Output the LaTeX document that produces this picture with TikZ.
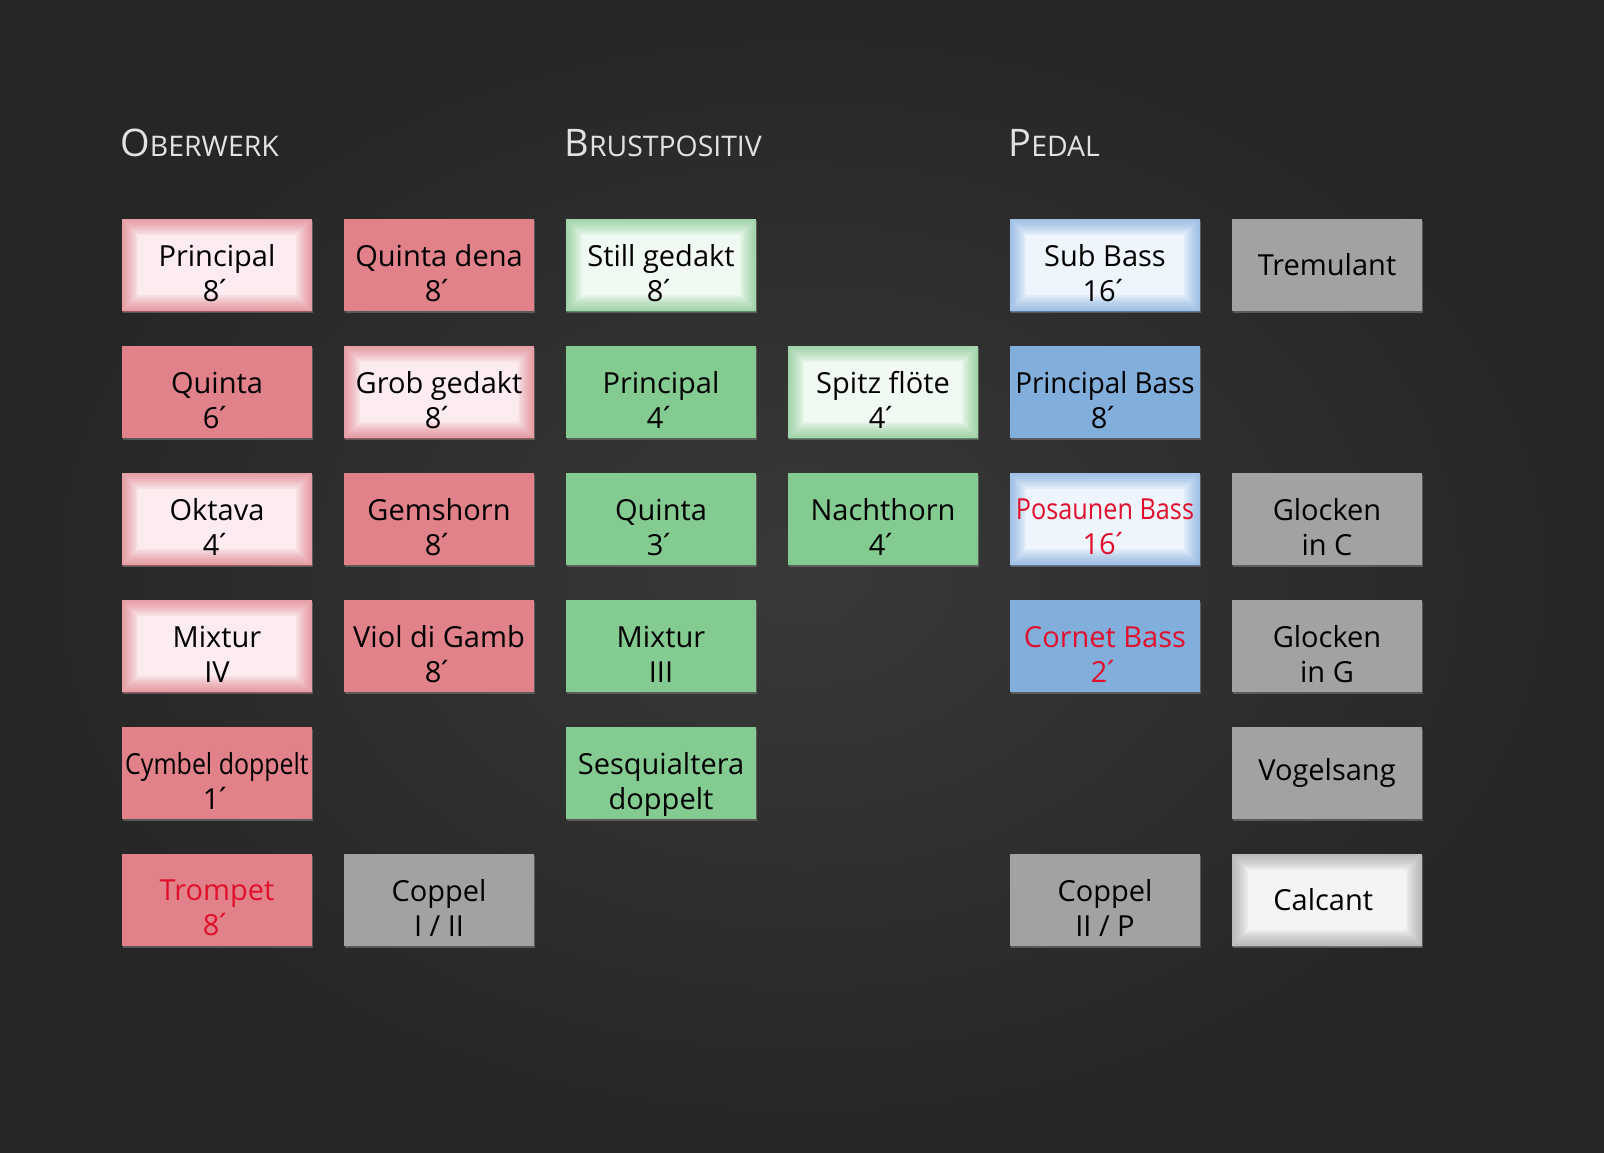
\documentclass[tikz,border=0pt]{standalone}
\usepackage{fontspec}
\setmainfont{Open Sans}
\usepackage{xcolor}
\usepackage{graphicx}
\usetikzlibrary{shadows}

\definecolor{tafelmitte}{HTML}{393939}
\definecolor{tafelrand}{HTML}{262626}
\definecolor{kopf}{HTML}{E2E2E2}
\definecolor{rotfill}{HTML}{E1818A}
\definecolor{rosafill}{HTML}{FCECF0}
\definecolor{rotglow}{HTML}{D65E6A}
\definecolor{gruenfill}{HTML}{84CB92}
\definecolor{hellgruenfill}{HTML}{F1FAF2}
\definecolor{gruenglow}{HTML}{62BA73}
\definecolor{blaufill}{HTML}{82AEDC}
\definecolor{hellblaufill}{HTML}{EEF5FC}
\definecolor{blauglow}{HTML}{5F98D4}
\definecolor{graufill}{HTML}{A2A2A2}
\definecolor{weissfill}{HTML}{F4F4F4}
\definecolor{grauglow}{HTML}{8E8E8E}
\definecolor{signalrot}{HTML}{E0102C}

\tikzset{
  knopf/.style={minimum width=95pt, minimum height=46pt, inner sep=0pt,
    drop shadow={shadow xshift=0.4pt, shadow yshift=-1.2pt, opacity=.55}},
  glow/.style={path picture={
    \foreach \w in {2,4,...,16}
      \draw[#1, line width=\w pt, opacity=.09] (path picture bounding box.south west) rectangle (path picture bounding box.north east);
  }},
  rot/.style={knopf, fill=rotfill},
  rosa/.style={knopf, fill=rosafill, glow=rotglow},
  gruen/.style={knopf, fill=gruenfill},
  hellgruen/.style={knopf, fill=hellgruenfill, glow=gruenglow},
  blau/.style={knopf, fill=blaufill},
  hellblau/.style={knopf, fill=hellblaufill, glow=blauglow},
  grau/.style={knopf, fill=graufill},
  weiss/.style={knopf, fill=weissfill, glow=grauglow},
  beschriftung/.style={inner sep=0pt, align=center, font=\fontsize{14.5}{17.5}\selectfont},
  schwarz/.style={beschriftung, text=black},
  signal/.style={beschriftung, text=signalrot},
  titel/.style={anchor=base west, text=kopf, inner sep=0pt}
}

% Kapitaelchen von Hand
\newcommand{\kap}[2]{{\fontsize{19}{21}\selectfont #1}{\fontsize{14.2}{16}\selectfont #2}}
% Fusston mit engem Strich
\newcommand{\fuss}[1]{#1\kern-2.5pt´}

\begin{document}
\begin{tikzpicture}[x=0.5pt, y=-0.5pt]
  % Tafel als Hintergrund (1604 x 1152 px)
  \shade[inner color=tafelmitte, outer color=tafelrand] (0,0) rectangle (1604,1152);
  \useasboundingbox (0,0) rectangle (1604,1152);

  % --- UEBERSCHRIFTEN ---
  \node[titel] (ow) at (120,156) {\kap{O}{BERWERK}};
  \node[titel] (bp) at (564,156) {\kap{B}{RUSTPOSITIV}};
  \node[titel] (pd) at (1008,156) {\kap{P}{EDAL}};

  % --- REGISTER ---
  % Name / Spalte / Zeile / Farbe / Schrift / Versatz (pt) / Text
  \foreach \n/\c/\r/\s/\f/\y/\t in {
    % Oberwerk
    ow1/1/1/rosa/schwarz/-4/{Principal\\\fuss{8}},
    ow2/2/1/rot/schwarz/-4/{Quinta dena\\\fuss{8}},
    ow3/1/2/rot/schwarz/-4/{Quinta\\\fuss{6}},
    ow4/2/2/rosa/schwarz/-4/{Grob gedakt\\\fuss{8}},
    ow5/1/3/rosa/schwarz/-4/{Oktava\\\fuss{4}},
    ow6/2/3/rot/schwarz/-4/{Gemshorn\\\fuss{8}},
    ow7/1/4/rosa/schwarz/-4/{Mixtur\\IV},
    ow8/2/4/rot/schwarz/-4/{Viol di Gamb\\\fuss{8}},
    ow9/1/5/rot/schwarz/-4/{\scalebox{0.86}[1]{Cymbel doppelt}\\\fuss{1}},
    ow10/1/6/rot/signal/-4/{Trompet\\\fuss{8}},
    ow11/2/6/grau/schwarz/-4/{Coppel\\I / II},
    % Brustpositiv
    bp1/3/1/hellgruen/schwarz/-4/{Still gedakt\\\fuss{8}},
    bp2/3/2/gruen/schwarz/-4/{Principal\\\fuss{4}},
    bp3/4/2/hellgruen/schwarz/-4/{Spitz flöte\\\fuss{4}},
    bp4/3/3/gruen/schwarz/-4/{Quinta\\\fuss{3}},
    bp5/4/3/gruen/schwarz/-4/{Nachthorn\\\fuss{4}},
    bp6/3/4/gruen/schwarz/-4/{Mixtur\\III},
    bp7/3/5/gruen/schwarz/-5.5/{Sesquialtera\\doppelt},
    % Pedal
    pd1/5/1/hellblau/schwarz/-4/{Sub Bass\\\fuss{16}},
    pd2/6/1/grau/schwarz/0/{Tremulant},
    pd3/5/2/blau/schwarz/-4/{\scalebox{0.96}[1]{Principal Bass}\\\fuss{8}},
    pd4/5/3/hellblau/signal/-4/{\scalebox{0.87}[1]{Posaunen Bass}\\\fuss{16}},
    pd5/6/3/grau/schwarz/-4/{Glocken\\in C},
    pd6/5/4/blau/signal/-4/{Cornet Bass\\\fuss{2}},
    pd7/6/4/grau/schwarz/-4/{Glocken\\in G},
    pd8/6/5/grau/schwarz/0/{Vogelsang},
    pd9/5/6/grau/schwarz/-4/{Coppel\\II / P},
    pd10/6/6/weiss/schwarz/0/{Calcant}
  } {
    \node[\s] (\n) at ({217+222*(\c-1)}, {265+127*(\r-1)}) {};
    \node[\f, yshift=\y pt] (\n-text) at (\n.center) {\t};
  }
\end{tikzpicture}
\end{document}
